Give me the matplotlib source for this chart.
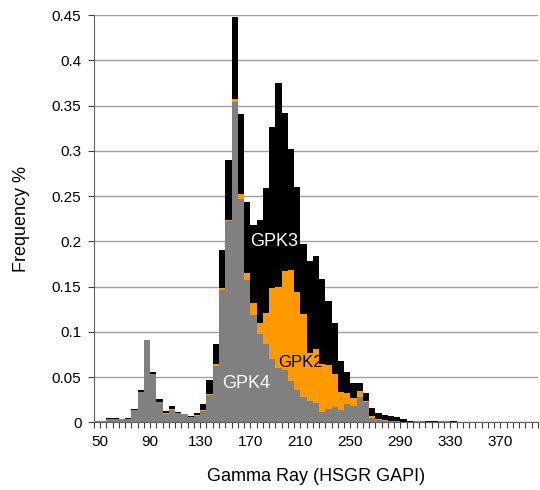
import numpy as np
import matplotlib
matplotlib.use('Agg')
import matplotlib.pyplot as plt

plt.rcParams['font.family'] = ['Liberation Sans', 'DejaVu Sans']

# bins of 5 GAPI, left edges 45..395
bin_left = np.arange(45, 400, 5)

# visible top of each column (overlapped columns)
gpk3 = [0.002, 0.002, 0.0046, 0.0046, 0.004, 0.0046, 0.015, 0.0355, 0.0915, 0.056,
        0.026, 0.013, 0.018, 0.0115, 0.0095, 0.0065, 0.010, 0.020, 0.047, 0.087,
        0.191, 0.290, 0.448, 0.341, 0.243, 0.218, 0.224, 0.259, 0.326, 0.375,
        0.342, 0.302, 0.260, 0.197, 0.178, 0.184, 0.159, 0.134, 0.110, 0.068,
        0.056, 0.044, 0.044, 0.033, 0.016, 0.010, 0.008, 0.0068, 0.0064, 0.0037,
        0.001, 0.0017, 0.0014, 0.001, 0.001, 0.0017, 0.0013, 0.001, 0, 0,
        0, 0, 0, 0, 0, 0, 0, 0, 0, 0, 0]
gpk2 = [0, 0, 0, 0, 0, 0, 0, 0, 0, 0,
        0, 0.0102, 0.0145, 0, 0, 0, 0.0085, 0.0135, 0.031, 0.064,
        0.148, 0.224, 0.357, 0.2525, 0.1655, 0.132, 0.1095, 0.121, 0.148, 0.150,
        0.167, 0.168, 0.1445, 0.120, 0.077, 0.081, 0.065, 0.063, 0.054, 0.034,
        0.032, 0.027, 0.035, 0.024, 0.0075, 0.0035, 0.003, 0.002, 0.0015, 0,
        0, 0, 0, 0, 0, 0, 0, 0, 0, 0,
        0, 0, 0, 0, 0, 0, 0, 0, 0, 0, 0]
gpk4 = [0.0015, 0.0015, 0.0042, 0.0042, 0.0037, 0.0042, 0.0138, 0.034, 0.091, 0.054,
        0.023, 0.009, 0.0134, 0.0105, 0.009, 0.006, 0.0075, 0.0125, 0.030, 0.062,
        0.146, 0.222, 0.354, 0.2465, 0.157, 0.119, 0.098, 0.087, 0.070, 0.060,
        0.058, 0.046, 0.036, 0.028, 0.024, 0.021, 0.011, 0.015, 0.017, 0.014,
        0.020, 0.018, 0.028, 0.023, 0.005, 0.003, 0.002, 0.0015, 0.001, 0.0008,
        0.0007, 0.0012, 0.001, 0.0008, 0.0008, 0.0014, 0.001, 0.0008, 0, 0,
        0, 0, 0, 0, 0, 0, 0, 0, 0, 0, 0]

tick_vals = [50, 90, 130, 170, 210, 250, 290, 330, 370]
y_ticks = [0, 0.05, 0.1, 0.15, 0.2, 0.25, 0.3, 0.35, 0.4, 0.45]
y_labels = ['0', '0.05', '0.1', '0.15', '0.2', '0.25', '0.3', '0.35', '0.4', '0.45']

fig = plt.figure(figsize=(5.4, 4.9), dpi=100)
ax = fig.add_axes([0.174, 0.138, 0.822, 0.831])

ax.bar(bin_left, gpk3, width=5, align='edge', color='black', linewidth=0, zorder=2)
ax.bar(bin_left, gpk2, width=5, align='edge', color='#FF9900', linewidth=0, zorder=3)
ax.bar(bin_left, gpk4, width=5, align='edge', color='#808080', linewidth=0, zorder=4)

ax.set_xlim(45, 400)
ax.set_ylim(0, 0.45)
ax.set_yticks(y_ticks)
ax.set_yticklabels(y_labels, fontsize=11)
ax.set_xticks(tick_vals)
ax.set_xticklabels([str(v) for v in tick_vals], fontsize=11)
ax.set_xticks(np.arange(45, 401, 5), minor=True)
ax.tick_params(axis='x', which='both', length=4, width=0.8, color='#404040', direction='out')
ax.tick_params(axis='y', length=4, width=0.8, color='#404040', pad=5)
ax.tick_params(axis='x', which='major', pad=5)

ax.yaxis.grid(True, color='#a0a0a0', linewidth=1.0, zorder=0)
ax.set_axisbelow(True)
for s in ['top', 'right']:
    ax.spines[s].set_visible(False)
ax.spines['left'].set_color('#606060')
ax.spines['bottom'].set_color('#606060')

ax.text(189, 0.2, 'GPK3', color='white', fontsize=13, ha='center', va='center', zorder=6)
ax.text(210, 0.066, 'GPK2', color='black', fontsize=12, ha='center', va='center', zorder=6)
ax.text(167, 0.043, 'GPK4', color='white', fontsize=13, ha='center', va='center', zorder=6)

ax.set_xlabel('Gamma Ray (HSGR GAPI)', fontsize=13, labelpad=14)
ax.set_ylabel('Frequency %', fontsize=13, labelpad=16)

fig.savefig('out.png', dpi=100)
